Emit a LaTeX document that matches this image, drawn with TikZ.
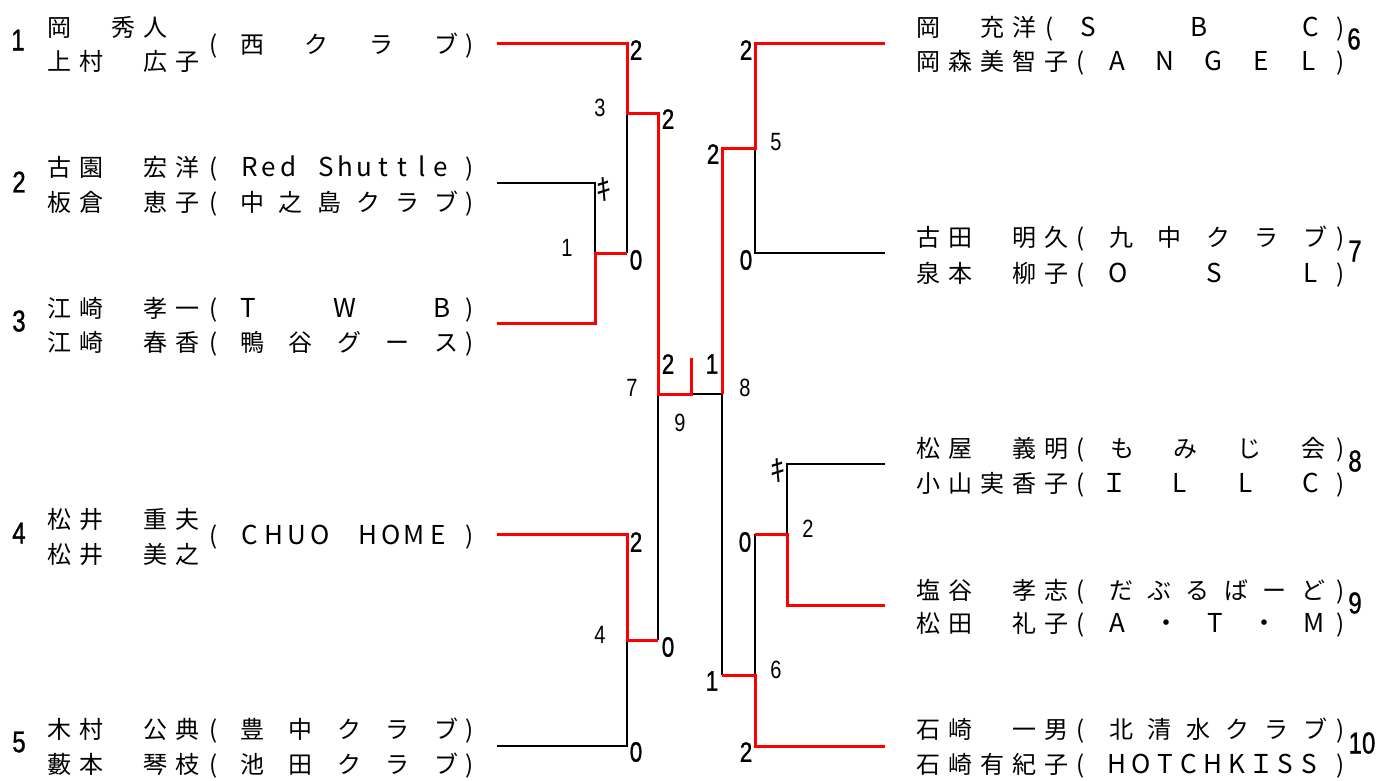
\documentclass[tikz,border=0pt]{standalone}
\usepackage{fontspec}
\newfontfamily\jpfont{Noto Sans CJK JP}
\newfontfamily\numfont{Liberation Sans}
\newfontfamily\numbold{Liberation Sans}[FakeBold=1.2]
\newcommand\narrow[1]{\scalebox{0.8}[1]{#1}}
\tikzset{
  jp/.style={font=\jpfont\fontsize{24}{24}\selectfont, inner sep=0pt, anchor=base},
  lat/.style={font=\jpfont\fontsize{26}{26}\selectfont, inner sep=0pt, anchor=base},
  seed/.style={font=\numbold\fontsize{30}{30}\selectfont, inner sep=0pt},
  score/.style={font=\numbold\fontsize{28}{28}\selectfont, inner sep=0pt},
  matchno/.style={font=\numfont\fontsize{25}{25}\selectfont, inner sep=0pt},
  kimark/.style={font=\jpfont\fontsize{30}{30}\selectfont, inner sep=0pt},
  loser/.style={draw=black, line width=1.4pt},
  winner/.style={draw=red, line width=3pt, line join=miter},
}
\newcommand\namerow[4]{%
  \foreach \c [count=\i from 0] in {#4}{\node[jp] (#1\i) at ({#2+32*\i},#3) {\c};}}
\newcommand\distrow[7]{%
  \foreach \c [count=\i from 0] in {#7}{\node[#2] (#1\i) at ({#4+\i*(#5-#4)/(#6-1)},#3) {\c};}}
\begin{document}
\begin{tikzpicture}[x=1pt,y=-1pt]
\useasboundingbox (0,0) rectangle (1379,780);
% ---------- bracket points
\coordinate (p1) at (497,43);
\coordinate (p2) at (497,183);
\coordinate (p3) at (497,323);
\coordinate (p4) at (497,534);
\coordinate (p5) at (497,746);
\coordinate (p6) at (885,43);
\coordinate (p7) at (885,253);
\coordinate (p8) at (885,464);
\coordinate (p9) at (885,605);
\coordinate (p10) at (885,746);
\coordinate (m1a) at (595,183);
\coordinate (m1b) at (595,323);
\coordinate (m1) at (595,253);
\coordinate (m1o) at (627,253);
\coordinate (m3a) at (627,43);
\coordinate (m3) at (627,113);
\coordinate (m3o) at (658,113);
\coordinate (m4a) at (627,534);
\coordinate (m4b) at (627,746);
\coordinate (m4) at (627,640);
\coordinate (m4o) at (658,640);
\coordinate (m7) at (658,394);
\coordinate (fin) at (691,394);
\coordinate (fintop) at (691,358);
\coordinate (m8) at (722,394);
\coordinate (m8a) at (722,148);
\coordinate (m8b) at (722,675);
\coordinate (m5a) at (755,43);
\coordinate (m5b) at (755,253);
\coordinate (m5) at (755,148);
\coordinate (m2a) at (787,464);
\coordinate (m2b) at (787,605);
\coordinate (m2) at (787,534);
\coordinate (m2o) at (755,534);
\coordinate (m6b) at (755,746);
\coordinate (m6) at (755,675);
% ---------- losing lines
\draw[loser] (p2) -- (m1a) -- (m1);
\draw[loser] (m3) -- (m1o);
\draw[loser] (m4) -- (m4b) -- (p5);
\draw[loser] (m7) -- (m4o);
\draw[loser] (fin) -- (m8);
\draw[loser] (m8) -- (m8b);
\draw[loser] (p7) -- (m5b) -- (m5);
\draw[loser] (p8) -- (m2a) -- (m2);
\draw[loser] (m2o) -- (m6);
% ---------- winning lines
\draw[winner] (p1) -- (m3a) -- (m3) -- (m3o) -- (m7) -- (fin) -- (fintop);
\draw[winner] (p3) -- (m1b) -- (m1) -- (m1o);
\draw[winner] (p4) -- (m4a) -- (m4) -- (m4o);
\draw[winner] (p6) -- (m5a) -- (m5) -- (m8a) -- (m8);
\draw[winner] (p9) -- (m2b) -- (m2) -- (m2o);
\draw[winner] (p10) -- (m6b) -- (m6) -- (m8b);
% ---------- scores and match numbers
\node[score] (sc1) at (636,50) {\narrow{2}};
\node[matchno] (mn3) at (600,108) {\narrow{3}};
\node[score] (sc2) at (668,119) {\narrow{2}};
\node[matchno] (mn1) at (567,248) {\narrow{1}};
\node[kimark] (ki1) at (604,190) {ｷ};
\node[score] (sc3) at (636,260) {\narrow{0}};
\node[score] (sc4) at (668,364) {\narrow{2}};
\node[matchno] (mn7) at (632,388) {\narrow{7}};
\node[score] (sc5) at (712,364) {\narrow{1}};
\node[matchno] (mn8) at (745,388) {\narrow{8}};
\node[score] (sc6) at (713,154) {\narrow{2}};
\node[matchno] (mn5) at (776,142) {\narrow{5}};
\node[score] (sc7) at (746,50) {\narrow{2}};
\node[score] (sc8) at (746,260) {\narrow{0}};
\node[matchno] (mn9) at (680,423) {\narrow{9}};
\node[kimark] (ki2) at (778,471) {ｷ};
\node[matchno] (mn2) at (808,529) {\narrow{2}};
\node[score] (sc9) at (745,542) {\narrow{0}};
\node[score] (sc10) at (636,542) {\narrow{2}};
\node[matchno] (mn4) at (600,635) {\narrow{4}};
\node[score] (sc11) at (668,647) {\narrow{0}};
\node[score] (sc12) at (712,681) {\narrow{1}};
\node[matchno] (mn6) at (776,670) {\narrow{6}};
\node[score] (sc13) at (636,752) {\narrow{0}};
\node[score] (sc14) at (746,752) {\narrow{2}};
% ---------- seeds
\node[seed] (sd1) at (18,40) {\narrow{1}};
\node[seed] (sd2) at (19,182) {\narrow{2}};
\node[seed] (sd3) at (19,321) {\narrow{3}};
\node[seed] (sd4) at (19,533) {\narrow{4}};
\node[seed] (sd5) at (19,742) {\narrow{5}};
\node[seed] (sd6) at (1354,39) {\narrow{6}};
\node[seed] (sd7) at (1355,251) {\narrow{7}};
\node[seed] (sd8) at (1355,461) {\narrow{8}};
\node[seed] (sd9) at (1355,603) {\narrow{9}};
\node[seed] (sd10) at (1362,743) {\narrow{10}};
% ---------- left entries
\namerow{nA}{59.5}{36}{岡,{},秀,人}
\namerow{nB}{59.5}{70}{上,村,{},広,子}
\node[jp] (lp1) at (214,53) {(}; \node[jp] (rp1) at (470,53) {)};
\distrow{cA}{jp}{53}{252}{446}{4}{西,ク,ラ,ブ}

\namerow{nC}{59.5}{176}{古,園,{},宏,洋}
\node[jp] (lp2) at (214,176) {(}; \node[jp] (rp2) at (470,176) {)};
\distrow{cC}{lat}{176}{250}{441}{11}{R,e,d,{},S,h,u,t,t,l,e}
\namerow{nD}{59.5}{211}{板,倉,{},恵,子}
\node[jp] (lp3) at (214,211) {(}; \node[jp] (rp3) at (470,211) {)};
\distrow{cD}{jp}{211}{252}{446}{6}{中,之,島,ク,ラ,ブ}

\namerow{nE}{59.5}{317}{江,崎,{},孝,一}
\node[jp] (lp4) at (214,317) {(}; \node[jp] (rp4) at (470,317) {)};
\distrow{cE}{lat}{317}{248}{442}{3}{T,W,B}
\namerow{nF}{59.5}{351}{江,崎,{},春,香}
\node[jp] (lp5) at (214,351) {(}; \node[jp] (rp5) at (470,351) {)};
\distrow{cF}{jp}{351}{252}{446}{5}{鴨,谷,グ,ー,ス}

\namerow{nG}{59.5}{528}{松,井,{},重,夫}
\namerow{nH}{59.5}{563}{松,井,{},美,之}
\node[jp] (lp6) at (214,544) {(}; \node[jp] (rp6) at (470,544) {)};
\distrow{cG}{lat}{544}{250}{438}{9}{C,H,U,O,{},H,O,M,E}

\namerow{nI}{59.5}{738}{木,村,{},公,典}
\node[jp] (lp7) at (214,738) {(}; \node[jp] (rp7) at (470,738) {)};
\distrow{cI}{jp}{738}{252}{446}{5}{豊,中,ク,ラ,ブ}
\namerow{nJ}{59.5}{773}{藪,本,{},琴,枝}
\node[jp] (lp8) at (214,773) {(}; \node[jp] (rp8) at (470,773) {)};
\distrow{cJ}{jp}{773}{252}{446}{5}{池,田,ク,ラ,ブ}
% ---------- right entries
\namerow{nK}{928.5}{36}{岡,{},充,洋}
\node[jp] (lp9) at (1050,36) {(}; \node[jp] (rp9) at (1341,36) {)};
\distrow{cK}{lat}{36}{1088}{1311}{3}{S,B,C}
\namerow{nL}{928.5}{70}{岡,森,美,智,子}
\node[jp] (lp10) at (1081,70) {(}; \node[jp] (rp10) at (1341,70) {)};
\distrow{cL}{lat}{70}{1117}{1309}{5}{A,N,G,E,L}

\namerow{nM}{928.5}{246}{古,田,{},明,久}
\node[jp] (lp11) at (1081,246) {(}; \node[jp] (rp11) at (1341,246) {)};
\distrow{cM}{jp}{246}{1121}{1315}{5}{九,中,ク,ラ,ブ}
\namerow{nN}{928.5}{282}{泉,本,{},柳,子}
\node[jp] (lp12) at (1081,282) {(}; \node[jp] (rp12) at (1341,282) {)};
\distrow{cN}{lat}{282}{1118}{1311}{3}{O,S,L}

\namerow{nO}{928.5}{457}{松,屋,{},義,明}
\node[jp] (lp13) at (1081,457) {(}; \node[jp] (rp13) at (1341,457) {)};
\distrow{cO}{jp}{457}{1122}{1313}{4}{も,み,じ,会}
\namerow{nP}{928.5}{492}{小,山,実,香,子}
\node[jp] (lp14) at (1081,492) {(}; \node[jp] (rp14) at (1341,492) {)};
\distrow{cP}{lat}{492}{1114}{1311}{4}{Ｉ,L,L,C}

\namerow{nQ}{928.5}{599}{塩,谷,{},孝,志}
\node[jp] (lp15) at (1081,599) {(}; \node[jp] (rp15) at (1341,599) {)};
\distrow{cQ}{jp}{599}{1121}{1313}{6}{だ,ぶ,る,ば,ー,ど}
\namerow{nR}{928.5}{632}{松,田,{},礼,子}
\node[jp] (lp16) at (1081,632) {(}; \node[jp] (rp16) at (1341,632) {)};
\distrow{cR}{lat}{632}{1117}{1314}{5}{A,・,T,・,M}

\namerow{nS}{928.5}{738}{石,崎,{},一,男}
\node[jp] (lp17) at (1081,738) {(}; \node[jp] (rp17) at (1341,738) {)};
\distrow{cS}{jp}{738}{1121}{1315}{6}{北,清,水,ク,ラ,ブ}
\namerow{nT}{928.5}{773}{石,崎,有,紀,子}
\node[jp] (lp18) at (1081,773) {(}; \node[jp] (rp18) at (1341,773) {)};
\distrow{cT}{lat}{773}{1117}{1309}{9}{H,O,T,C,H,K,Ｉ,S,S}
\end{tikzpicture}
\end{document}
